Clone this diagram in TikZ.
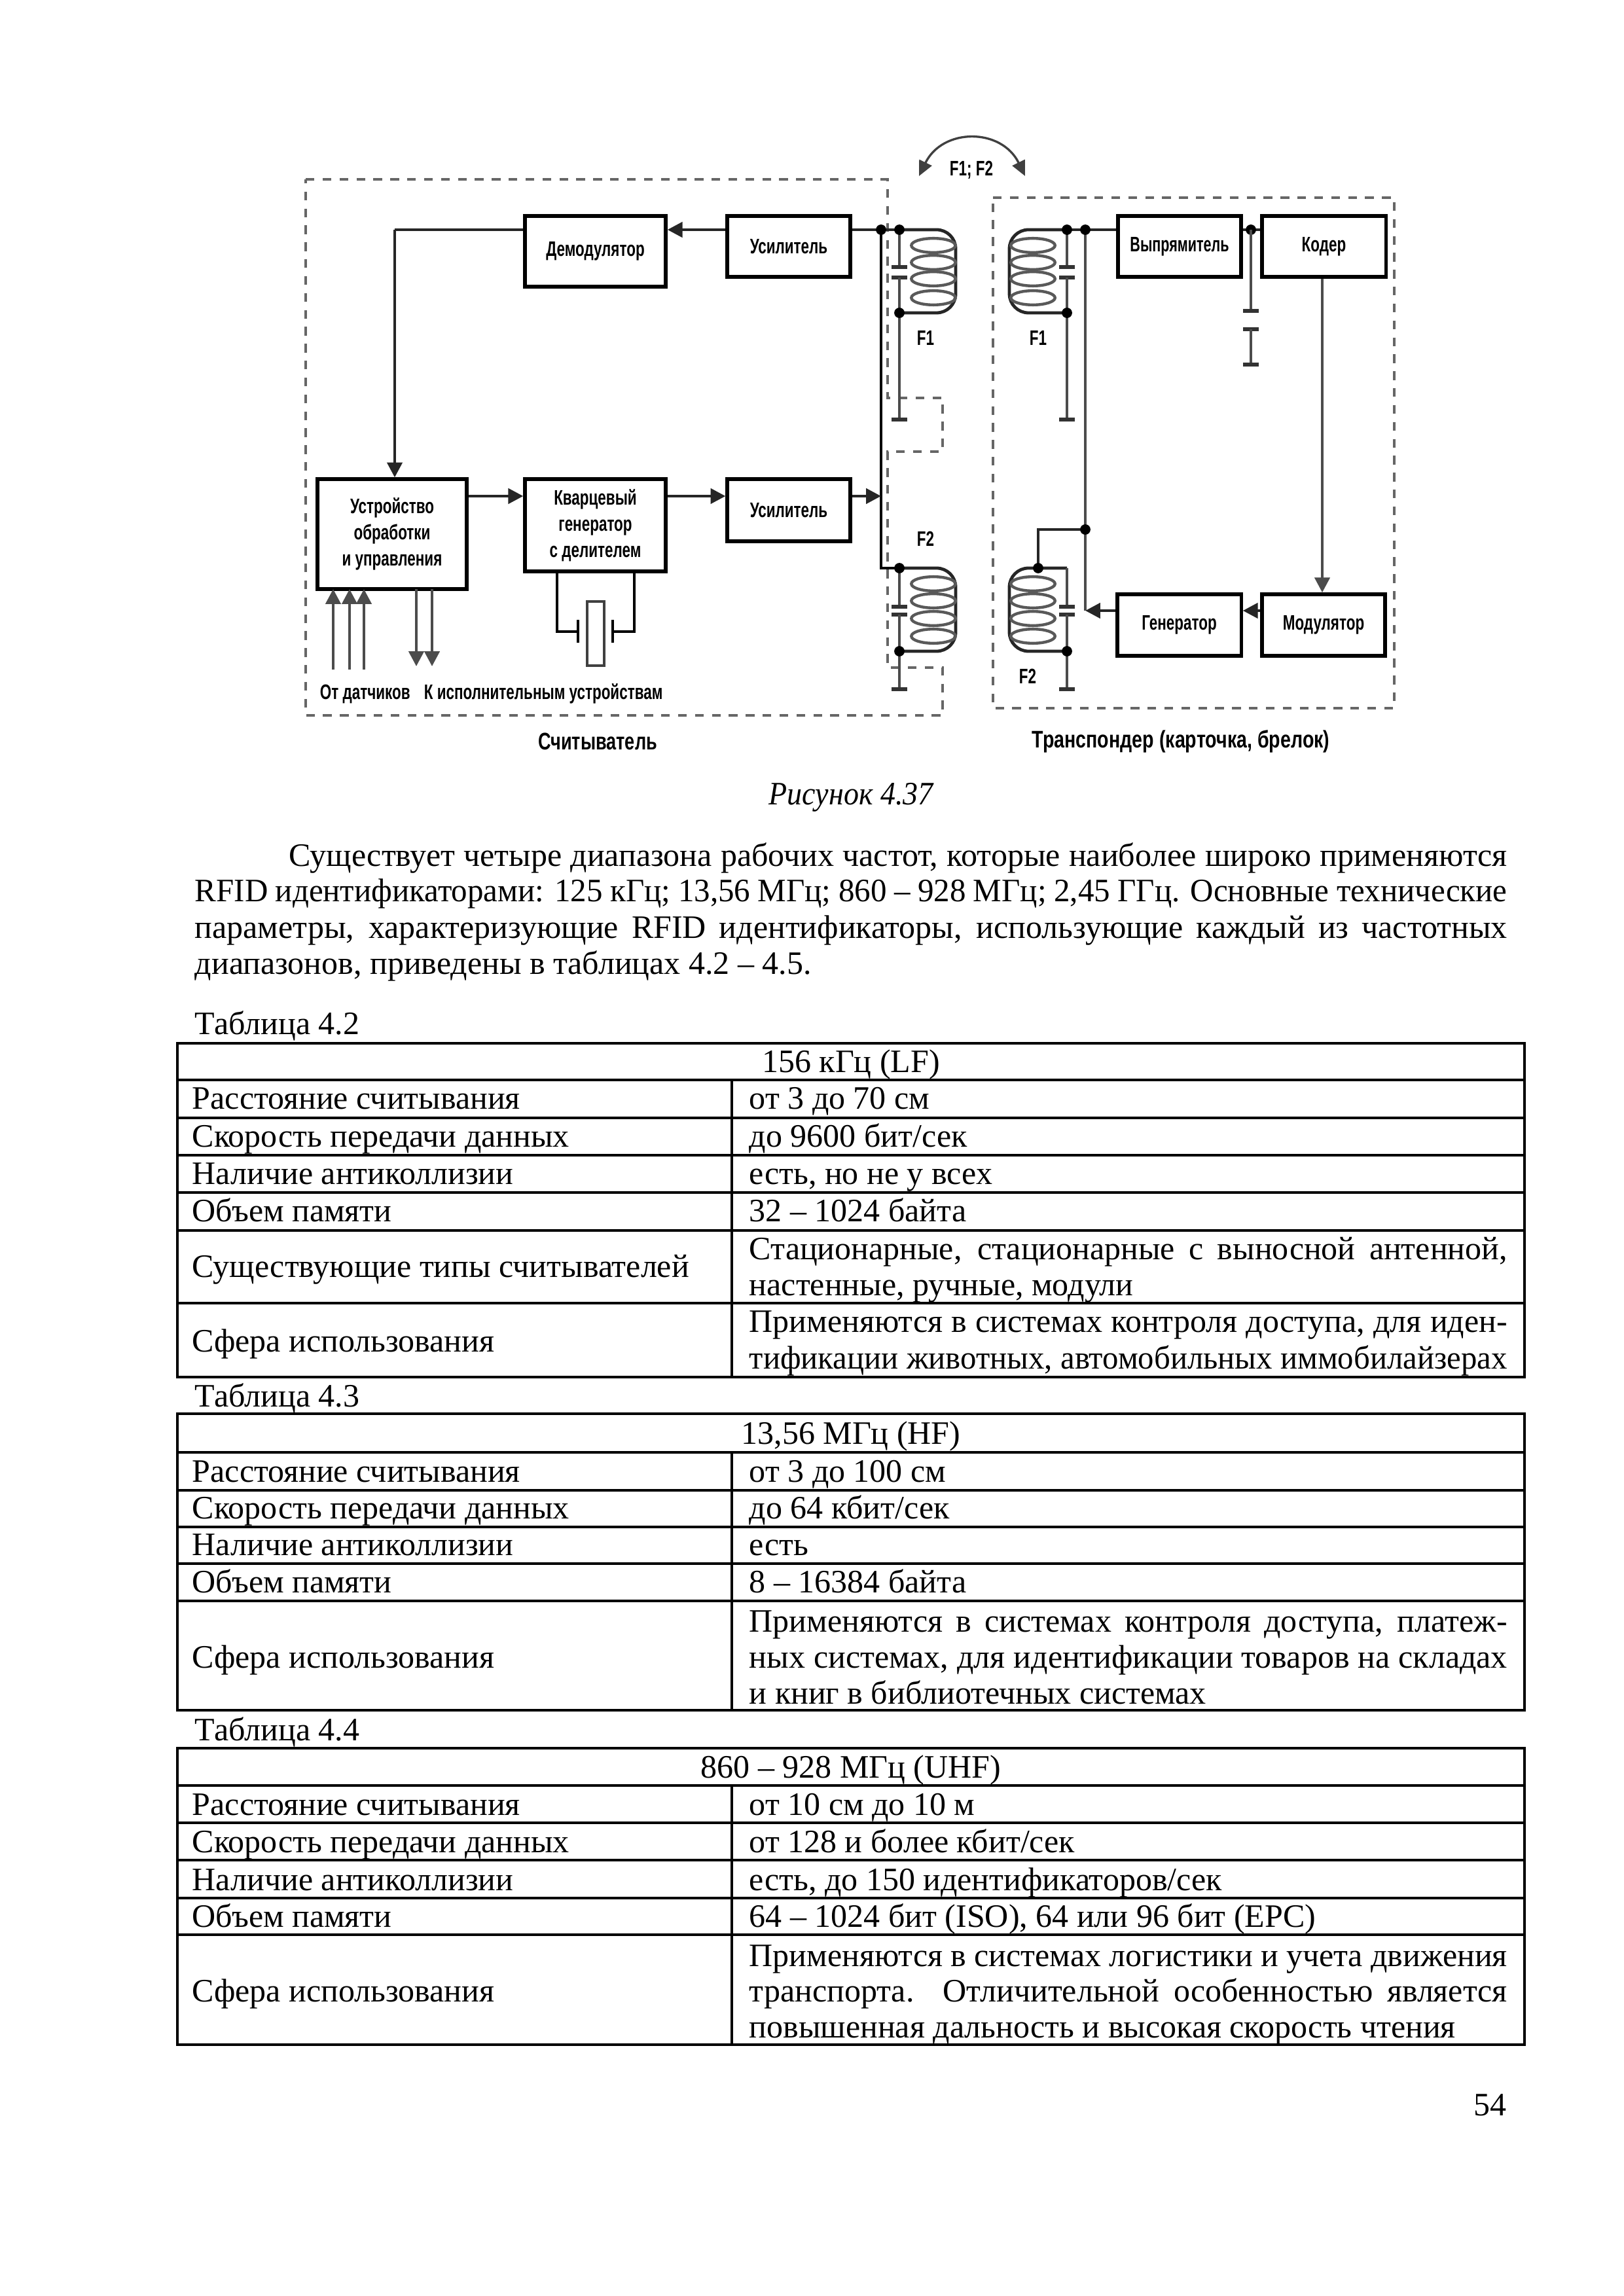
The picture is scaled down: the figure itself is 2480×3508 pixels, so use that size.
\documentclass[tikz,border=0pt]{standalone}
\usepackage{fontspec}
\usepackage{graphicx}
\setmainfont{Liberation Serif}
\newfontfamily\diagfont[FakeStretch=0.70]{Liberation Sans}
\newfontfamily\diagmid[FakeStretch=0.74]{Liberation Sans}
\newfontfamily\diagwide[FakeStretch=0.78]{Liberation Sans}
\usetikzlibrary{arrows.meta}
\tikzset{
  blk/.style={draw=black,line width=1.25pt,fill=white,inner sep=0pt,align=center,font=\diagfont\bfseries\fontsize{7.7}{9.6}\selectfont},
  wire/.style={line width=1.15pt,draw=black!85},
  thinwire/.style={line width=0.75pt,draw=black},
  gwire/.style={line width=1.1pt,draw=black!70},
  arr/.style={-{Triangle[length=5.5pt,width=5.5pt]}},
  frame/.style={line width=0.8pt,draw=black!60,dash pattern=on 3.2pt off 3pt},
  loopc/.style={line width=1.05pt,draw=black!65},
  dotj/.style={fill=black},
  dlab/.style={inner sep=0pt,font=\diagfont\bfseries\fontsize{7.7}{9.6}\selectfont},
  dcap/.style={inner sep=0pt,font=\diagwide\bfseries\fontsize{8.8}{10}\selectfont},
  txt/.style={inner sep=0pt,anchor=base west,font=\fontsize{12}{14}\selectfont},
  ctxt/.style={inner sep=0pt,anchor=base,font=\fontsize{12}{14}\selectfont},
  rtxt/.style={inner sep=0pt,anchor=base east,font=\fontsize{12}{14}\selectfont},
  tline/.style={line width=0.85pt,draw=black}
}
\newcommand{\rfCoil}[5]{\foreach \c in {#2,#3,#4,#5}{\draw[loopc] (#1,\c) ellipse[x radius=8.1pt,y radius=2.6pt];}}
\newcommand{\rfCap}[5]{% x, wire top, plate1, plate2, ground
  \draw[gwire] (#1,#2) -- (#1,#3);
  \draw[line width=1.3pt,draw=black!80] (#1-12,#3) -- (#1+12,#3);
  \draw[line width=1.3pt,draw=black!80] (#1-12,#4) -- (#1+12,#4);
  \draw[gwire] (#1,#4) -- (#1,#5);
  \draw[line width=1.3pt,draw=black!80] (#1-12,#5) -- (#1+12,#5);}
\newcommand{\rfDot}[2]{\fill[dotj] (#1,#2) circle[radius=1.9pt];}
\newcommand{\jline}[5]{\node[txt] (#1) at (#2,#3) {\makebox[#4][s]{#5}};}
\newcommand{\jlineS}[6]{\node[txt] (#1) at (#2,#3) {\scalebox{#5}[1]{\makebox[#4][s]{#6}}};}
\begin{document}
\begin{tikzpicture}[x=0.24pt,y=-0.24pt]
\useasboundingbox (0,0) rectangle (2480,3508);
\fill[white] (0,0) rectangle (2480,3508);

% dashed frames
\draw[frame] (467,274) -- (1356,274) -- (1356,608) -- (1440,608) -- (1440,690) -- (1356,690) -- (1356,1020) -- (1440,1020) -- (1440,1093) -- (467,1093) -- cycle;
\draw[frame] (1517,302) -- (2130,302) -- (2130,1082) -- (1517,1082) -- cycle;

% blocks
\node[blk,minimum width=51.6pt,minimum height=25.9pt] (dem) at (909.5,384) {Демодулятор};
\node[blk,minimum width=45.1pt,minimum height=22.3pt] (ampa) at (1205,376.5) {Усилитель};
\node[blk,minimum width=54.7pt,minimum height=40.3pt] (ctrl) at (599,816) {Устройство\\обработки\\и управления};
\node[blk,minimum width=51.6pt,minimum height=33.8pt] (osc) at (909.5,802.5) {Кварцевый\\генератор\\с делителем};
\node[blk,minimum width=45.1pt,minimum height=22.8pt] (ampb) at (1205,779.5) {Усилитель};
\node[blk,minimum width=45.1pt,minimum height=22.3pt] (rect) at (1802,376.5) {\scalebox{0.96}[1]{Выпрямитель}};
\node[blk,minimum width=45.4pt,minimum height=22.3pt] (cod) at (2022.5,376.5) {Кодер};
\node[blk,minimum width=45.4pt,minimum height=22.6pt] (gen) at (1801.5,955) {Генератор};
\node[blk,minimum width=45.1pt,minimum height=22.6pt] (mod) at (2022,955) {Модулятор};

% junction coordinates
\coordinate (ja) at (1346,351);
\coordinate (jb) at (1374,351);
\coordinate (jc) at (1630,351);
\coordinate (jd) at (1658,351);
\coordinate (je) at (1911,351);
\coordinate (jf) at (1346,868);
\coordinate (jg) at (1374,868);
\coordinate (jh) at (1658,809);
\coordinate (ji) at (1586,868);
\coordinate (jk) at (1658,933);
\coordinate (jl) at (603,351);
\coordinate (jm) at (1346,758);

% upper signal path
\draw[wire,arr] (ampa.west |- ja) -- (dem.east |- ja);
\draw[wire] (dem.west |- jl) -- (jl);
\draw[wire,arr] (jl) -- (jl |- ctrl.north);
\draw[wire] (ampa.east |- ja) -- (jb);
\draw[thinwire] (ja) -- (jf) -- (jg);

% lower signal path
\draw[wire,arr] (ctrl.east |- jm) -- (osc.west |- jm);
\draw[wire,arr] (osc.east |- jm) -- (ampb.west |- jm);
\draw[wire,arr] (ampb.east |- jm) -- (jm);

% reader coils
\draw[wire,rounded corners=7pt] (jb) -- (1460,351) -- (1460,478) -- (1374,478);
\rfCoil{1426}{375}{401}{426}{455}
\rfCap{1374}{351}{408}{424}{641}
\draw[wire,rounded corners=7pt] (jg) -- (1460,868) -- (1460,995) -- (1374,995);
\rfCoil{1426}{892}{918}{945}{972}
\rfCap{1374}{868}{927}{939}{1053}
\rfDot{1346}{351}\rfDot{1374}{351}\rfDot{1374}{478}\rfDot{1374}{868}\rfDot{1374}{995}

% transponder coils
\draw[wire,rounded corners=7pt] (jc) -- (1542,351) -- (1542,478) -- (1630,478);
\draw[wire] (jc) -- (rect.west |- jc);
\rfCoil{1578}{375}{401}{426}{455}
\rfCap{1630}{351}{408}{424}{641}
\draw[wire,rounded corners=7pt] (1630,868) -- (1542,868) -- (1542,995) -- (1630,995);
\rfCoil{1578}{892}{918}{945}{972}
\rfCap{1630}{868}{927}{939}{1053}
\draw[gwire] (jd) -- (jk);
\draw[wire] (jh) -- (jh -| ji) -- (ji);
\rfDot{1630}{351}\rfDot{1658}{351}\rfDot{1630}{478}\rfDot{1658}{809}\rfDot{1586}{868}\rfDot{1630}{995}

% transponder signal path
\draw[wire,arr] (gen.west |- jk) -- (jk);
\draw[wire,arr] (mod.west |- jk) -- (gen.east |- jk);
\draw[wire] (rect.east |- je) -- (cod.west |- je);
\rfDot{1911}{351}
\rfCap{1911}{351}{475}{503}{557}
\draw[gwire,arr] (cod.south -| 2020,0) -- (mod.north -| 2020,0);

% crystal
\coordinate (xa) at (851,965);
\coordinate (xb) at (969,965);
\draw[thinwire] (osc.south -| xa) -- (xa) -- (883,965);
\draw[thinwire] (osc.south -| xb) -- (xb) -- (936,965);
\draw[line width=1pt] (883,947) -- (883,982);
\draw[line width=1pt] (936,947) -- (936,982);
\draw[line width=1.1pt,draw=black!75,fill=white] (897,919) rectangle (923,1017);

% sensors and actuators
\foreach \xx in {509,534,556}{\draw[gwire,arr] (\xx,1023) -- (\xx,900);}
\foreach \xx in {636,660}{\draw[gwire,arr] (\xx,900) -- (\xx,1018);}

% field arc
\coordinate (arcl) at (1404,269);
\coordinate (arcr) at (1566,269);
\draw[line width=0.8pt,draw=black!75,{Triangle[length=5.5pt,width=5pt]}-{Triangle[length=5.5pt,width=5pt]}] (arcl) .. controls (1440,195) and (1530,195) .. (arcr);

% diagram labels
\node[dlab] (fmain) at (1484,260) {F1; F2};
\node[dlab] (fa) at (1414,516) {F1};
\node[dlab] (fb) at (1586,516) {F1};
\node[dlab] (fc) at (1414,823) {F2};
\node[dlab] (fd) at (1570,1033) {F2};
\node[dlab,anchor=base west] (froms) at (488,1068) {От датчиков};
\node[dlab,anchor=base west] (toact) at (647,1068) {К исполнительным устройствам};
\node[dcap,font=\diagmid\bfseries\fontsize{8.8}{10}\selectfont] (reader) at (913,1133) {Считыватель};
\node[dcap] (tag) at (1804,1133) {Транспондер (карточка, брелок)};

% caption and paragraph
\node[ctxt,font=\itshape\fontsize{12}{14}\selectfont] (cap) at (1300,1229) {\scalebox{0.92}[1]{Рисунок 4.37}};
\jline{pa}{441}{1323}{446.64pt}{Существует четыре диапазона рабочих частот, которые наиболее широко применяются}
\jlineS{pb}{297}{1377}{491pt}{0.98}{RFID идентификаторами: 125 кГц; 13,56 МГц; 860 -- 928 МГц; 2,45 ГГц. Основные технические}
\jline{pc}{297}{1433}{481.2pt}{параметры, характеризующие RFID идентификаторы, использующие каждый из частотных}
\node[txt] (pd) at (297,1488) {диапазонов, приведены в таблицах 4.2 -- 4.5.};

% table 4.2
\node[txt] (ta) at (297,1580) {Таблица 4.2};
\draw[tline] (271,1594) rectangle (2329,2104);
\foreach \yy in {1650,1708,1765,1822,1880,1991}{\draw[tline] (271,\yy) -- (2329,\yy);}
\draw[tline] (1118,1650) -- (1118,2104);
\node[ctxt] (ah) at (1300,1638) {156 кГц (LF)};
\node[txt] (aa) at (293,1694) {Расстояние считывания};
\node[txt] (ab) at (1144,1694) {от 3 до 70 см};
\node[txt] (ac) at (293,1752) {Скорость передачи данных};
\node[txt] (ad) at (1144,1752) {до 9600 бит/сек};
\node[txt] (ae) at (293,1809) {Наличие антиколлизии};
\node[txt] (af) at (1144,1809) {есть, но не у всех};
\node[txt] (ag) at (293,1866) {Объем памяти};
\node[txt] (ai) at (1144,1866) {32 -- 1024 байта};
\node[txt] (aj) at (293,1951) {Существующие типы считывателей};
\jline{ak}{1144}{1924}{277.92pt}{Стационарные, стационарные с выносной антенной,}
\node[txt] (al) at (1144,1979) {настенные, ручные, модули};
\node[txt] (am) at (293,2065) {Сфера использования};
\jline{an}{1144}{2035}{277.92pt}{Применяются в системах контроля доступа, для иден-}
\jlineS{ao}{1144}{2091}{285pt}{0.975}{тификации животных, автомобильных иммобилайзерах}

% table 4.3
\node[txt] (tb) at (297,2149) {Таблица 4.3};
\draw[tline] (271,2160) rectangle (2329,2613);
\foreach \yy in {2219,2277,2333,2389,2446}{\draw[tline] (271,\yy) -- (2329,\yy);}
\draw[tline] (1118,2219) -- (1118,2613);
\node[ctxt] (bh) at (1300,2206) {13,56 МГц (HF)};
\node[txt] (ba) at (293,2264) {Расстояние считывания};
\node[txt] (bb) at (1144,2264) {от 3 до 100 см};
\node[txt] (bc) at (293,2320) {Скорость передачи данных};
\node[txt] (bd) at (1144,2320) {до 64 кбит/сек};
\node[txt] (be) at (293,2376) {Наличие антиколлизии};
\node[txt] (bf) at (1144,2376) {есть};
\node[txt] (bg) at (293,2433) {Объем памяти};
\node[txt] (bi) at (1144,2433) {8 -- 16384 байта};
\node[txt] (bj) at (293,2548) {Сфера использования};
\jline{bk}{1144}{2493}{277.92pt}{Применяются в системах контроля доступа, платеж-}
\jline{bl}{1144}{2548}{277.92pt}{ных системах, для идентификации товаров на складах}
\node[txt] (bm) at (1144,2603) {и книг в библиотечных системах};

% table 4.4
\node[txt] (tc) at (297,2659) {Таблица 4.4};
\draw[tline] (271,2671) rectangle (2329,3124);
\foreach \yy in {2728,2785,2842,2900,2956}{\draw[tline] (271,\yy) -- (2329,\yy);}
\draw[tline] (1118,2728) -- (1118,3124);
\node[ctxt] (ch) at (1300,2716) {860 -- 928 МГц (UHF)};
\node[txt] (ca) at (293,2773) {Расстояние считывания};
\node[txt] (cb) at (1144,2773) {от 10 см до 10 м};
\node[txt] (cc) at (293,2830) {Скорость передачи данных};
\node[txt] (cd) at (1144,2830) {от 128 и более кбит/сек};
\node[txt] (ce) at (293,2888) {Наличие антиколлизии};
\node[txt] (cf) at (1144,2888) {есть, до 150 идентификаторов/сек};
\node[txt] (cg) at (293,2944) {Объем памяти};
\node[txt] (ci) at (1144,2944) {64 -- 1024 бит (ISO), 64 или 96 бит (EPC)};
\node[txt] (cj) at (293,3058) {Сфера использования};
\jline{ck}{1144}{3004}{277.92pt}{Применяются в системах логистики и учета движения}
\jline{cl}{1144}{3058}{277.92pt}{транспорта. Отличительной особенностью является}
\node[txt] (cm) at (1144,3113) {повышенная дальность и высокая скорость чтения};

\node[rtxt] (pg) at (2302,3232) {54};
\end{tikzpicture}
\end{document}
